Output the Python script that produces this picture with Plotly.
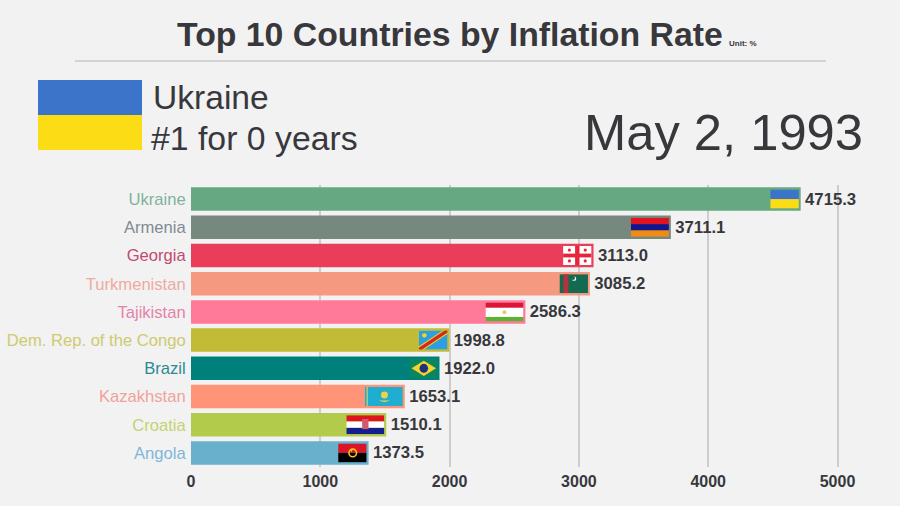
"""Top 10 countries by inflation rate, bar chart race frame."""
import base64
import plotly.graph_objects as go

COUNTRIES = ['Ukraine', 'Armenia', 'Georgia', 'Turkmenistan', 'Tajikistan',
             'Dem. Rep. of the Congo', 'Brazil', 'Kazakhstan', 'Croatia', 'Angola']
VALUES = [4715.3, 3711.1, 3113.0, 3085.2, 2586.3, 1998.8, 1922.0, 1653.1, 1510.1, 1373.5]
BAR_COLORS = ['#66a882', '#77887f', '#e93d59', '#f59a80', '#ff7a98',
              '#c2bb35', '#00807a', '#ff9478', '#b3cb4a', '#68b0cc']
LABEL_COLORS = ['#80b29c', '#7f8a92', '#c24a6e', '#eeaaa0', '#e582aa',
                '#cfca6e', '#2b8a90', '#f0a298', '#c5d270', '#7db8d8']
X_TICKS = [0, 1000, 2000, 3000, 4000, 5000]

BG = '#f2f2f3'
TEXT = '#38383c'
GRID = '#cdcdcd'

# plot area in page pixels
L, R, T, B = 191, 850, 185, 467
PX_PER_UNIT = 0.1293


def px(x):
    return (x - L) / (R - L)


def py(y):
    return (B - y) / (B - T)


def stripes(*cols):
    h = 60 / len(cols)
    return ''.join(f'<rect y="{i*h}" width="120" height="{h}" fill="{c}"/>' for i, c in enumerate(cols))


def svg_uri(body, w=90, h=60):
    svg = f'<svg xmlns="http://www.w3.org/2000/svg" viewBox="0 0 {w} {h}" preserveAspectRatio="none">{body}</svg>'
    return 'data:image/svg+xml;base64,' + base64.b64encode(svg.encode()).decode()


georgia_dots = ''.join(f'<circle cx="{x}" cy="{y}" r="5" fill="#e5263a"/>'
                       for x in (20, 70) for y in (13, 47))
FLAGS = {
    'Ukraine': (svg_uri(stripes('#3b74c9', '#fcdc14')), 1.5),
    'Armenia': (svg_uri(stripes('#e0141e', '#14148c', '#f08c14'), 120), 2.0),
    'Georgia': (svg_uri('<rect width="90" height="60" fill="#fff"/>'
                        '<rect x="38" width="14" height="60" fill="#e5263a"/>'
                        '<rect y="24" width="90" height="12" fill="#e5263a"/>' + georgia_dots), 1.5),
    'Turkmenistan': (svg_uri('<rect width="90" height="60" fill="#146a50"/>'
                             '<rect x="12" width="16" height="60" fill="#b4323c"/>'
                             '<circle cx="46" cy="14" r="7" fill="#fff"/>'
                             '<circle cx="43" cy="12" r="6" fill="#146a50"/>'), 1.5),
    'Tajikistan': (svg_uri('<rect width="120" height="17" fill="#dc1438"/>'
                           '<rect y="17" width="120" height="29" fill="#fff"/>'
                           '<rect y="46" width="120" height="14" fill="#5ab432"/>'
                           '<circle cx="60" cy="31" r="6" fill="#e8c860"/>', 120), 2.0),
    'Dem. Rep. of the Congo': (svg_uri('<rect width="90" height="60" fill="#2c9fe0"/>'
                                       '<line x1="0" y1="60" x2="90" y2="0" stroke="#f5d820" stroke-width="17"/>'
                                       '<line x1="0" y1="60" x2="90" y2="0" stroke="#d22a1e" stroke-width="11"/>'
                                       '<circle cx="17" cy="15" r="7" fill="#f5d820"/>'), 1.5),
    'Brazil': (svg_uri('<rect width="90" height="60" fill="#0b8560"/>'
                       '<polygon points="45,6 85,30 45,54 5,30" fill="#f2d52a"/>'
                       '<circle cx="45" cy="30" r="14" fill="#23307c"/>'), 1.45),
    'Kazakhstan': (svg_uri('<rect width="120" height="60" fill="#20aed0"/>'
                           '<rect x="5" width="5" height="60" fill="#e8d060" opacity="0.7"/>'
                           '<circle cx="62" cy="25" r="11" fill="#eed24a"/>'
                           '<path d="M44 40 Q62 54 80 40 Q62 46 44 40Z" fill="#eed24a"/>', 120), 2.0),
    'Croatia': (svg_uri(stripes('#e0141e', '#fff', '#141e8c')
                        + '<rect x="50" y="12" width="20" height="32" fill="#d25a70"/>', 120), 2.0),
    'Angola': (svg_uri('<rect width="90" height="30" fill="#dc1428"/>'
                       '<rect y="30" width="90" height="30" fill="#000"/>'
                       '<circle cx="46" cy="30" r="12" fill="none" stroke="#f2c81e" stroke-width="5"/>'
                       '<polygon points="37,18 45,22 41,28" fill="#f2c81e"/>'), 1.5),
}

fig = go.Figure(go.Bar(
    x=VALUES, y=COUNTRIES, orientation='h',
    marker=dict(color=BAR_COLORS, line=dict(width=0)),
    text=VALUES, texttemplate='\u200a%{text:.1f}', textposition='outside',
    textfont=dict(family='Liberation Sans', size=16.7, color=TEXT, weight='bold'),
    cliponaxis=False, hovertemplate='%{y}: <b>%{x}</b><extra></extra>',
))

images = []
for name, value in zip(COUNTRIES, VALUES):
    src, aspect = FLAGS[name]
    flag_h = 19
    images.append(dict(
        source=src, xref='x', yref='y', x=value - 15, y=name,
        sizex=flag_h * aspect / PX_PER_UNIT, sizey=flag_h / ((B - T) / 10),
        xanchor='right', yanchor='middle', sizing='stretch', layer='above',
    ))
# big flag in the header
images.append(dict(
    source=FLAGS['Ukraine'][0], xref='paper', yref='paper',
    x=px(38), y=py(80), sizex=(142 - 38) / (R - L), sizey=70 / (B - T),
    xanchor='left', yanchor='top', sizing='stretch', layer='above',
))


def note(text, x, y, size, anchor='left', bold=False):
    return dict(text=text, x=px(x), y=py(y), xref='paper', yref='paper', showarrow=False,
                xanchor=anchor, yanchor='middle', borderpad=0, borderwidth=0,
                font=dict(family='Liberation Sans', size=size, color=TEXT,
                          weight='bold' if bold else 'normal'))


fig.update_layout(
    width=900, height=506,
    paper_bgcolor=BG, plot_bgcolor=BG,
    margin=dict(l=L, r=900 - R, t=T, b=506 - B, autoexpand=False),
    showlegend=False,
    bargap=0.167,
    images=images,
    annotations=[
        note('Top 10 Countries by Inflation Rate', 177, 34, 33.8, bold=True),
        note('Unit: %', 729, 43, 8, bold=True),
        note('Ukraine', 153, 97, 33.6),
        note('#1 for 0 years', 151, 138, 33.8),
        note('May 2, 1993', 863, 132, 50.7, anchor='right'),
    ],
    shapes=[dict(type='line', xref='paper', yref='paper', x0=px(75), x1=px(826),
                 y0=py(61), y1=py(61), line=dict(color='#c9c9cb', width=1.5))],
    xaxis=dict(
        range=[0, (R - L) / PX_PER_UNIT], tickvals=X_TICKS, showgrid=True,
        gridcolor=GRID, gridwidth=2, zeroline=False, showline=False,
        ticks='outside', ticklen=0, tickcolor='rgba(0,0,0,0)',
        tickfont=dict(family='Liberation Sans', size=16, color=TEXT, weight='bold'),
    ),
    yaxis=dict(
        categoryorder='array', categoryarray=COUNTRIES, autorange='reversed',
        tickmode='array', tickvals=COUNTRIES,
        ticktext=[f'<span style="color:{c}">{n}</span>' for n, c in zip(COUNTRIES, LABEL_COLORS)],
        showgrid=False, zeroline=False, showline=False,
        ticks='outside', ticklen=1, tickcolor='rgba(0,0,0,0)',
        tickfont=dict(family='Liberation Sans', size=16.6),
    ),
)
fig.write_html('out.html', config={'displayModeBar': False},
               post_script="document.body.style.margin='0';document.body.style.background='#f2f2f3';")
